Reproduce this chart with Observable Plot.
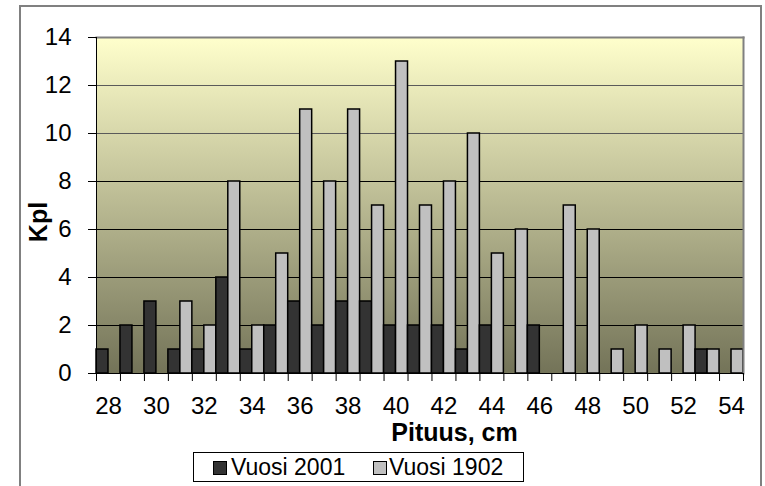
<!DOCTYPE html>
<html>
<head>
<meta charset="utf-8">
<script src="https://cdn.jsdelivr.net/npm/d3@7"></script>
<script src="https://cdn.jsdelivr.net/npm/@observablehq/plot@0.6"></script>
<style>
  body { margin: 0; background: #fff; overflow: hidden; }
  #wrap { position: relative; width: 765px; height: 486px; overflow: hidden; font-family: "Liberation Sans", Arial, sans-serif; }
  #outer { position: absolute; left: 19px; top: 5px; width: 743px; height: 600px; border: 2px solid #808080; box-sizing: border-box; }
  #chart { position: absolute; left: 0; top: 0; }
  #ytitle { position: absolute; left: 38px; top: 222px; transform: translate(-50%, -50%) rotate(-90deg); font-size: 25px; font-weight: bold; line-height: 1; white-space: nowrap; color: #000; }
  #legend { position: absolute; left: 193px; top: 452px; width: 331px; height: 30px; border: 1px solid #000; box-sizing: border-box; background: #fff; }
  #legend .sw { position: absolute; top: 8px; width: 14px; height: 14px; border: 1.5px solid #000; box-sizing: border-box; }
  #legend .lab { position: absolute; top: 1px; font-size: 23px; line-height: 26px; color: #000; white-space: nowrap; }
</style>
</head>
<body>
<div id="wrap">
  <div id="outer"></div>
  <div id="chart"></div>
  <div id="ytitle"></div>
  <div id="legend"></div>
</div>
<script>
// ---- data ----
const lengths = [28, 29, 30, 31, 32, 33, 34, 35, 36, 37, 38, 39, 40, 41, 42, 43, 44, 45, 46, 47, 48, 49, 50, 51, 52, 53, 54];
const vuosi2001 = [1, 2, 3, 1, 1, 4, 1, 2, 3, 2, 3, 3, 2, 2, 2, 1, 2, 0, 2, 0, 0, 0, 0, 0, 0, 1, 0];
const vuosi1902 = [0, 0, 0, 3, 2, 8, 2, 5, 11, 8, 11, 7, 13, 7, 8, 10, 5, 6, 0, 7, 6, 1, 2, 1, 2, 1, 1];
const seriesNames = ["Vuosi 2001", "Vuosi 1902"];
const seriesColors = ["#333333", "#C0C0C0"];
const yTicks = [0, 2, 4, 6, 8, 10, 12, 14];
const xTickLabels = [28, 30, 32, 34, 36, 38, 40, 42, 44, 46, 48, 50, 52, 54];
const yTitle = "Kpl";
const xTitle = "Pituus, cm";

// ---- table ----
const rows = [];
lengths.forEach((len, i) => {
  rows.push({len, series: seriesNames[0], slot: 0, value: vuosi2001[i]});
  rows.push({len, series: seriesNames[1], slot: 1, value: vuosi1902[i]});
});
const bars = rows.filter(d => d.value > 0);
const boundaries = lengths.map(d => d - 0.5).concat([lengths[lengths.length - 1] + 0.5]);

const gradientDefs = () => {
  const defs = document.createElementNS("http://www.w3.org/2000/svg", "defs");
  defs.innerHTML = '<linearGradient id="bgGrad" x1="0" y1="0" x2="0" y2="1">' +
    '<stop offset="0" stop-color="#FFFFCC"/><stop offset="1" stop-color="#737358"/></linearGradient>';
  return defs;
};

const chart = Plot.plot({
  width: 765,
  height: 450,
  marginLeft: 96,
  marginRight: 22,
  marginTop: 37,
  marginBottom: 77,
  style: {fontFamily: "'Liberation Sans', Arial, sans-serif", background: "transparent", color: "#000", overflow: "visible"},
  x: {type: "linear", domain: [boundaries[0], boundaries[boundaries.length - 1]]},
  y: {domain: [0, 14]},
  color: {domain: seriesNames, range: seriesColors},
  marks: [
    gradientDefs,
    Plot.frame({fill: "url(#bgGrad)", stroke: "none"}),
    Plot.gridY([2, 4, 6, 8], {stroke: "#000", strokeOpacity: 1}),
    Plot.gridY([10, 12], {stroke: "#5a5a5a", strokeOpacity: 1}),
    Plot.rect(bars, {
      x1: d => d.len - 0.5 + d.slot * 0.5,
      x2: d => d.len + d.slot * 0.5,
      y1: 0,
      y2: "value",
      fill: "series",
      stroke: "#000",
      strokeWidth: 1.5
    }),
    Plot.frame({anchor: "top", stroke: "#808080", strokeWidth: 2}),
    Plot.frame({anchor: "right", stroke: "#808080", strokeWidth: 2}),
    Plot.frame({anchor: "left", stroke: "#000", strokeWidth: 1}),
    Plot.ruleY([0], {stroke: "#000", strokeWidth: 1}),
    Plot.axisY(yTicks, {tickSize: 8, tickPadding: 17, fontSize: 24, label: null}),
    Plot.axisX(boundaries, {tickSize: 8, fill: "none", label: null}),
    Plot.axisX(xTickLabels, {tickSize: 0, tickPadding: 23, fontSize: 24, label: null}),
    Plot.text([xTitle], {frameAnchor: "bottom", dx: 34.5, dy: 59, lineAnchor: "middle", fontSize: 25, fontWeight: "bold"})
  ]
});
document.getElementById("chart").appendChild(chart);
document.getElementById("ytitle").textContent = yTitle;

// ---- legend ----
const legend = document.getElementById("legend");
const swLeft = [19, 179];
const labLeft = [37, 195];
seriesNames.forEach((name, i) => {
  const sw = document.createElement("div");
  sw.className = "sw";
  sw.style.left = swLeft[i] + "px";
  sw.style.background = seriesColors[i];
  legend.appendChild(sw);
  const lab = document.createElement("div");
  lab.className = "lab";
  lab.style.left = labLeft[i] + "px";
  lab.textContent = name;
  legend.appendChild(lab);
});
</script>
</body>
</html>
